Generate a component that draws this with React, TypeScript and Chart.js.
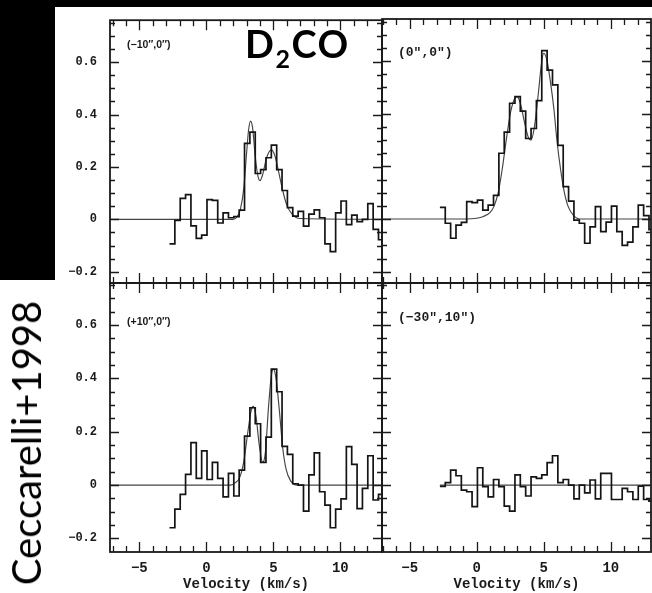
import React, { useEffect, useRef } from "react";
import { Chart, registerables } from "chart.js";

Chart.register(...registerables);

// Channel left edges (km/s); the last entry closes the final channel.
const CHANNEL_EDGES = [
  -2.75, -2.35, -1.95, -1.55, -1.15, -0.75, -0.35, 0.05, 0.45, 0.85,
  1.25, 1.65, 2.05, 2.45, 2.85, 3.25, 3.65, 4.05, 4.45, 4.85,
  5.25, 5.65, 6.05, 6.45, 6.85, 7.25, 7.65, 8.05, 8.45, 8.85,
  9.25, 9.65, 10.05, 10.45, 10.85, 11.25, 11.65, 12.05, 12.45, 12.85,
  13.25,
];

// Observed spectra, one value per channel (K)
const T_M10_0 = [
  -0.094, -0.004, 0.08, 0.094, -0.025, -0.073, -0.06, 0.075, 0.072, -0.014,
  0.025, 0.006, 0.01, 0.035, 0.29, 0.333, 0.175, 0.19, 0.235, 0.283,
  0.19, 0.11, 0.045, 0.012, 0.03, -0.026, 0.02, 0.036, 0.006, -0.094,
  -0.123, 0.025, 0.07, -0.02, 0.016, -0.009, 0.0, 0.06, -0.038, -0.078,
];
const T_0_0 = [
  0.044, -0.016, -0.073, -0.023, -0.013, 0.066, 0.062, 0.072, 0.034, 0.053,
  0.09, 0.25, 0.33, 0.44, 0.465, 0.41, 0.306, 0.344, 0.45, 0.64,
  0.566, 0.51, 0.28, 0.123, 0.068, -0.004, -0.016, -0.092, -0.03, 0.047,
  -0.048, -0.012, 0.049, -0.048, -0.1, -0.088, -0.03, 0.053, 0.013, -0.04,
];
const T_P10_0 = [
  -0.16, -0.09, -0.035, 0.04, 0.159, 0.025, 0.128, 0.021, 0.085, 0.025,
  -0.044, 0.044, -0.041, 0.056, 0.184, 0.29, 0.23, 0.085, 0.18, 0.435,
  0.35, 0.145, 0.115, 0.005, 0.0, -0.098, 0.038, 0.121, -0.025, -0.075,
  -0.16, -0.09, -0.052, 0.144, 0.078, -0.088, -0.012, 0.11, -0.056, -0.035,
];
const T_M30_10 = [
  -0.005, 0.009, 0.056, 0.035, -0.019, -0.025, -0.081, 0.065, -0.006, -0.044,
  0.021, -0.006, -0.079, -0.098, 0.038, -0.006, -0.041, 0.031, 0.025, 0.038,
  0.084, 0.11, 0.009, 0.021, 0.0, -0.052, 0.0, -0.029, 0.019, -0.052,
  0.044, 0.044, -0.054, -0.054, -0.012, -0.025, -0.054, -0.004, -0.054, -0.06,
];

// Fitted profiles
const FIT_M10_0_V = [-7.5, 2.0, 2.3, 2.55, 2.8, 3.0, 3.15, 3.3, 3.45, 3.65, 3.85, 4.0, 4.2, 4.5, 4.85, 5.1, 5.4, 5.7, 6.0, 6.4, 7.0, 13.5];
const FIT_M10_0_T = [0, 0, 0.01, 0.04, 0.12, 0.25, 0.34, 0.375, 0.35, 0.24, 0.165, 0.148, 0.17, 0.235, 0.265, 0.245, 0.18, 0.11, 0.055, 0.02, 0.003, 0];
const FIT_0_0_V = [-7.5, -1.0, 0, 0.5, 1.0, 1.3, 1.6, 1.9, 2.2, 2.5, 2.8, 3.0, 3.25, 3.55, 3.85, 4.05, 4.3, 4.6, 4.85, 5.0, 5.25, 5.5, 5.75, 6.0, 6.25, 6.5, 6.8, 7.2, 7.7, 13.5];
const FIT_0_0_T = [0, 0, 0.003, 0.01, 0.025, 0.05, 0.1, 0.19, 0.3, 0.4, 0.455, 0.465, 0.44, 0.37, 0.31, 0.3, 0.35, 0.48, 0.6, 0.63, 0.6, 0.52, 0.42, 0.29, 0.19, 0.11, 0.05, 0.015, 0, 0];
const FIT_P10_0_V = [-7.5, 1.8, 2.2, 2.5, 2.8, 3.1, 3.35, 3.5, 3.7, 3.95, 4.2, 4.4, 4.65, 4.85, 5.0, 5.2, 5.45, 5.7, 5.95, 6.3, 6.8, 13.5];
const FIT_P10_0_T = [0, 0, 0.01, 0.03, 0.09, 0.2, 0.28, 0.295, 0.26, 0.15, 0.085, 0.12, 0.3, 0.41, 0.435, 0.4, 0.28, 0.14, 0.06, 0.015, 0, 0];
const FIT_M30_10_V = [-2.75, 13.5];
const FIT_M30_10_T = [0, 0];

// Axis ticks
const X_MAJOR = [-5, 0, 5, 10];
const X_LABELS = ["\u22125", "0", "5", "10"];
const X_MINOR = [-7, -6, -5, -4, -3, -2, -1, 0, 1, 2, 3, 4, 5, 6, 7, 8, 9, 10, 11, 12, 13];
const Y_MAJOR = [-0.2, 0, 0.2, 0.4, 0.6];
const Y_LABELS = ["\u22120.2", "0", "0.2", "0.4", "0.6"];
const Y_MINOR = [-0.2, -0.15, -0.1, -0.05, 0, 0.05, 0.1, 0.15, 0.2, 0.25, 0.3, 0.35, 0.4, 0.45, 0.5, 0.55, 0.6, 0.65, 0.7, 0.75];

const W = 652;
const H = 593;
const YW = 50;
const XH = 41;

type Panel = {
  key: string;
  values: number[];
  fitV: number[];
  fitT: number[];
  area: { left: number; top: number; right: number; bottom: number };
  xMin: number;
  xMax: number;
  yMin: number;
  yMax: number;
  showX: boolean;
  showY: boolean;
};

const PANELS: Panel[] = [
  { key: "tl", values: T_M10_0, fitV: FIT_M10_0_V, fitT: FIT_M10_0_T, area: { left: 110, top: 19, right: 382, bottom: 283 }, xMin: -7.19, xMax: 13.11, yMin: -0.243, yMax: 0.76, showX: false, showY: true },
  { key: "tr", values: T_0_0, fitV: FIT_0_0_V, fitT: FIT_0_0_T, area: { left: 382, top: 19, right: 651, bottom: 283 }, xMin: -7.07, xMax: 13.0, yMin: -0.243, yMax: 0.76, showX: false, showY: false },
  { key: "bl", values: T_P10_0, fitV: FIT_P10_0_V, fitT: FIT_P10_0_T, area: { left: 110, top: 283, right: 382, bottom: 552 }, xMin: -7.19, xMax: 13.11, yMin: -0.251, yMax: 0.758, showX: true, showY: true },
  { key: "br", values: T_M30_10, fitV: FIT_M30_10_V, fitT: FIT_M30_10_T, area: { left: 382, top: 283, right: 651, bottom: 552 }, xMin: -7.07, xMax: 13.0, yMin: -0.251, yMax: 0.758, showX: true, showY: false },
];

const frameTicks = {
  id: "frameTicks",
  afterDatasetsDraw(chart: any) {
    const { ctx, chartArea: a } = chart;
    const x = chart.scales.x;
    const y = chart.scales.y;
    ctx.save();
    ctx.strokeStyle = "#1a1a1a";
    ctx.lineWidth = 1.3;
    ctx.beginPath();
    X_MINOR.forEach((v) => {
      const px = Math.round(x.getPixelForValue(v)) + 0.5;
      if (px <= a.left + 1 || px >= a.right - 1) return;
      const len = X_MAJOR.includes(v) ? 10 : 6;
      ctx.moveTo(px, a.bottom);
      ctx.lineTo(px, a.bottom - len);
      ctx.moveTo(px, a.top);
      ctx.lineTo(px, a.top + len);
    });
    Y_MINOR.forEach((v) => {
      const py = Math.round(y.getPixelForValue(v)) + 0.5;
      if (py <= a.top + 1 || py >= a.bottom - 1) return;
      const len = Y_MAJOR.some((m) => Math.abs(m - v) < 1e-6) ? 9 : 5;
      ctx.moveTo(a.left, py);
      ctx.lineTo(a.left + len, py);
      ctx.moveTo(a.right, py);
      ctx.lineTo(a.right - len, py);
    });
    ctx.stroke();
    ctx.lineWidth = 1.8;
    ctx.strokeRect(a.left, a.top, a.right - a.left, a.bottom - a.top);
    ctx.restore();
  },
};

function PanelChart({ p }: { p: Panel }) {
  const ref = useRef<HTMLCanvasElement>(null);
  useEffect(() => {
    const hist = CHANNEL_EDGES.map((v, i) => ({ x: v, y: p.values[Math.min(i, p.values.length - 1)] }));
    const fit = p.fitV.map((v, i) => ({ x: v, y: p.fitT[i] }));
    const padding = {
      left: p.showY ? p.area.left - YW : p.area.left,
      right: W - p.area.right,
      top: p.area.top,
      bottom: p.showX ? H - p.area.bottom - XH : H - p.area.bottom,
    };
    const tickFontX = { family: '"Liberation Mono", monospace', size: 14, weight: "bold" as const };
    const tickFontY = { family: '"Liberation Mono", monospace', size: 12, weight: "bold" as const };
    const chart = new Chart(ref.current as HTMLCanvasElement, {
      type: "line",
      data: {
        datasets: [
          { data: hist, stepped: "before", borderColor: "#141414", borderWidth: 1.7, pointRadius: 0, fill: false },
          { data: fit, borderColor: "#444444", borderWidth: 1.15, pointRadius: 0, fill: false, cubicInterpolationMode: "monotone" },
        ],
      } as any,
      options: {
        animation: false,
        responsive: false,
        devicePixelRatio: 1,
        events: [],
        layout: { padding, autoPadding: false } as any,
        plugins: { legend: { display: false }, tooltip: { enabled: false } },
        scales: {
          x: {
            type: "linear",
            position: "bottom",
            min: p.xMin,
            max: p.xMax,
            bounds: "data",
            display: p.showX,
            afterBuildTicks: (s: any) => {
              s.ticks = X_MAJOR.map((v) => ({ value: v }));
            },
            afterFit: (s: any) => {
              if (p.showX) s.height = XH;
            },
            grid: { display: false, drawTicks: false },
            border: { display: false },
            ticks: {
              autoSkip: false,
              maxRotation: 0,
              padding: 8,
              color: "#1a1a1a",
              font: tickFontX,
              callback: (_v: any, i: number) => X_LABELS[i],
            },
            title: {
              display: true,
              text: "Velocity (km/s)",
              color: "#1a1a1a",
              font: tickFontX,
              padding: { top: 0, bottom: 0 },
            },
          },
          y: {
            type: "linear",
            position: "left",
            min: p.yMin,
            max: p.yMax,
            bounds: "data",
            display: p.showY,
            afterBuildTicks: (s: any) => {
              s.ticks = Y_MAJOR.map((v) => ({ value: v }));
            },
            afterFit: (s: any) => {
              if (p.showY) s.width = YW;
            },
            grid: { display: false, drawTicks: false },
            border: { display: false },
            ticks: {
              autoSkip: false,
              padding: 13,
              color: "#1a1a1a",
              font: tickFontY,
              callback: (_v: any, i: number) => Y_LABELS[i],
            },
          },
        },
      } as any,
      plugins: [frameTicks],
    });
    return () => chart.destroy();
  }, [p]);
  return (
    <canvas
      ref={ref}
      width={W}
      height={H}
      style={{ position: "absolute", left: 0, top: 0, width: W, height: H, pointerEvents: "none" }}
    />
  );
}

const smallLabel: React.CSSProperties = {
  position: "absolute",
  font: 'bold 10.5px "Liberation Sans", sans-serif',
  lineHeight: "11px",
  color: "#1a1a1a",
  whiteSpace: "nowrap",
};
const bigLabel: React.CSSProperties = {
  position: "absolute",
  font: 'bold 13px "Liberation Mono", monospace',
  lineHeight: "13px",
  color: "#1a1a1a",
  whiteSpace: "nowrap",
};

export default function App() {
  return (
    <div style={{ position: "absolute", left: 0, top: 0, width: W, height: H, background: "#fff", overflow: "hidden" }}>
      <div style={{ position: "absolute", left: 0, top: 0, width: W, height: 7, background: "#000" }} />
      <div style={{ position: "absolute", left: 0, top: 0, width: 55, height: 280, background: "#000" }} />
      {PANELS.map((p) => (
        <PanelChart key={p.key} p={p} />
      ))}
      <div style={{ ...smallLabel, left: 127, top: 39 }}>(−10″,0″)</div>
      <div style={{ ...bigLabel, left: 398, top: 46 }}>(0″,0″)</div>
      <div style={{ ...smallLabel, left: 127, top: 316 }}>(+10″,0″)</div>
      <div style={{ ...bigLabel, left: 398, top: 311 }}>(−30″,10″)</div>
      <div
        style={{
          position: "absolute",
          left: 245,
          top: 24,
          font: 'bold 38px Lato, sans-serif',
          lineHeight: "38px",
          letterSpacing: "1.5px",
          color: "#000",
          whiteSpace: "nowrap",
        }}
      >
        D<span style={{ fontSize: 25, position: "relative", top: 10 }}>2</span>CO
      </div>
      <div
        style={{
          position: "absolute",
          left: 26,
          top: 443,
          transform: "translate(-50%, -50%) rotate(-90deg)",
          font: '40px Lato, sans-serif',
          lineHeight: "40px",
          color: "#000",
          whiteSpace: "nowrap",
        }}
      >
        Ceccarelli+1998
      </div>
    </div>
  );
}
